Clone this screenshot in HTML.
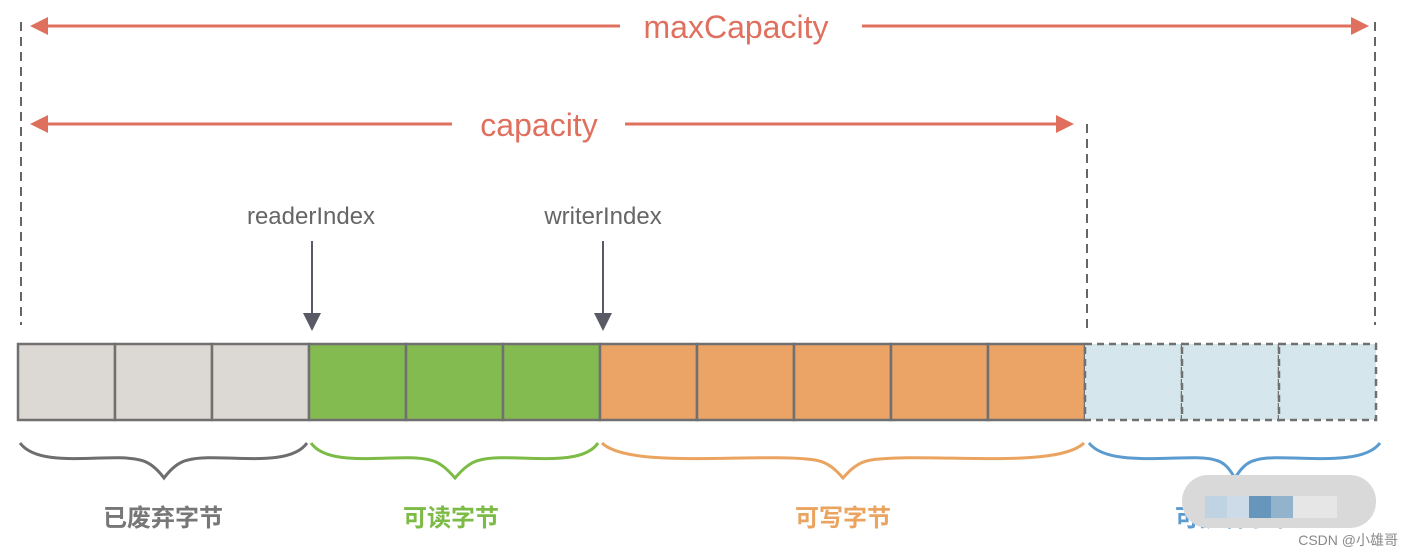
<!DOCTYPE html>
<html><head><meta charset="utf-8"><style>
html,body{margin:0;padding:0;background:#fff;}
svg{display:block}
text{font-family:"Liberation Sans","Noto Sans CJK SC",sans-serif;}
</style></head><body>
<svg width="1414" height="556" viewBox="0 0 1414 556" xmlns="http://www.w3.org/2000/svg">
<g stroke="#666" stroke-width="2" stroke-dasharray="9,6" fill="none">
<line x1="21" y1="22" x2="21" y2="325"/>
<line x1="1087" y1="124" x2="1087" y2="330"/>
<line x1="1375" y1="22" x2="1375" y2="325"/>
</g>
<g stroke="#e0705e" stroke-width="3" fill="#e0705e">
<line x1="38" y1="26" x2="620" y2="26"/>
<line x1="862" y1="26" x2="1352" y2="26"/>
<line x1="38" y1="124" x2="452" y2="124"/>
<line x1="625" y1="124" x2="1057" y2="124"/>
</g>
<g fill="#e0705e">
<polygon points="30,26 48,17 48,35"/>
<polygon points="1369,26 1351,17 1351,35"/>
<polygon points="30,124 48,115 48,133"/>
<polygon points="1074,124 1056,115 1056,133"/>
</g>
<text x="736" y="38" font-size="32" fill="#e0705e" text-anchor="middle">maxCapacity</text>
<text x="539" y="136" font-size="32" fill="#e0705e" text-anchor="middle">capacity</text>
<text x="311" y="224" font-size="24" fill="#666" text-anchor="middle">readerIndex</text>
<text x="603" y="224" font-size="24" fill="#666" text-anchor="middle">writerIndex</text>
<g stroke="#5a5a66" stroke-width="2"><line x1="312" y1="241" x2="312" y2="316"/><line x1="603" y1="241" x2="603" y2="316"/></g>
<g fill="#5a5a66"><polygon points="303,313 321,313 312,331"/><polygon points="594,313 612,313 603,331"/></g>
<g stroke="#707070" stroke-width="2.5">
<rect x="18" y="344" width="97" height="76" fill="#dcd8d3"/>
<rect x="115" y="344" width="97" height="76" fill="#dcd8d3"/>
<rect x="212" y="344" width="97" height="76" fill="#dcd8d3"/>
<rect x="309" y="344" width="97" height="76" fill="#83bb50"/>
<rect x="406" y="344" width="97" height="76" fill="#83bb50"/>
<rect x="503" y="344" width="97" height="76" fill="#83bb50"/>
<rect x="600" y="344" width="97" height="76" fill="#eba465"/>
<rect x="697" y="344" width="97" height="76" fill="#eba465"/>
<rect x="794" y="344" width="97" height="76" fill="#eba465"/>
<rect x="891" y="344" width="97" height="76" fill="#eba465"/>
<rect x="988" y="344" width="97" height="76" fill="#eba465"/>
</g>
<g stroke="#707070" stroke-width="2.5" stroke-dasharray="7,5" fill="#d5e7ec">
<rect x="1085" y="344" width="97" height="76"/>
<rect x="1182" y="344" width="97" height="76"/>
<rect x="1279" y="344" width="97" height="76"/>
</g>
<g fill="none" stroke-width="3">
<path d="M20,443 C40,470 110,452 140,460 C150,462 158,470 164,478 C170,470 178,462 188,460 C218,452 288,470 307,443" stroke="#6e6e6e"/>
<path d="M311,443 C330,470 400,452 430,460 C440,462 448,470 455,478 C462,470 470,462 480,460 C510,452 580,470 598,443" stroke="#7cbb45"/>
<path d="M602,443 C630,470 760,452 815,460 C828,462 836,470 843,478 C850,470 858,462 871,460 C926,452 1056,470 1084,443" stroke="#eaa460"/>
<path d="M1089,443 C1110,470 1190,452 1215,460 C1225,462 1230,470 1235,478 C1240,470 1246,462 1256,460 C1281,452 1360,470 1380,443" stroke="#5b9bcf"/>
</g>
<text x="163" y="526" font-size="24" fill="#777" text-anchor="middle" font-weight="bold">已废弃字节</text>
<text x="451" y="526" font-size="24" fill="#7cbb45" text-anchor="middle" font-weight="bold">可读字节</text>
<text x="843" y="526" font-size="24" fill="#eaa460" text-anchor="middle" font-weight="bold">可写字节</text>
<text x="1235" y="526" font-size="24" fill="#5b9bcf" text-anchor="middle" font-weight="bold">可扩容字节</text>
<rect x="1182" y="475" width="194" height="53" rx="26" fill="#d9d9d9"/>
<rect x="1205" y="496" width="22" height="22" fill="#bfd3e2"/>
<rect x="1227" y="496" width="22" height="22" fill="#cddbe8"/>
<rect x="1249" y="496" width="22" height="22" fill="#6696bb"/>
<rect x="1271" y="496" width="22" height="22" fill="#92b3cc"/>
<rect x="1293" y="496" width="44" height="22" fill="#e6e6e6"/>
<text x="1398" y="545" font-size="14" fill="#888" text-anchor="end">CSDN @小雄哥</text>
</svg>
</body></html>
